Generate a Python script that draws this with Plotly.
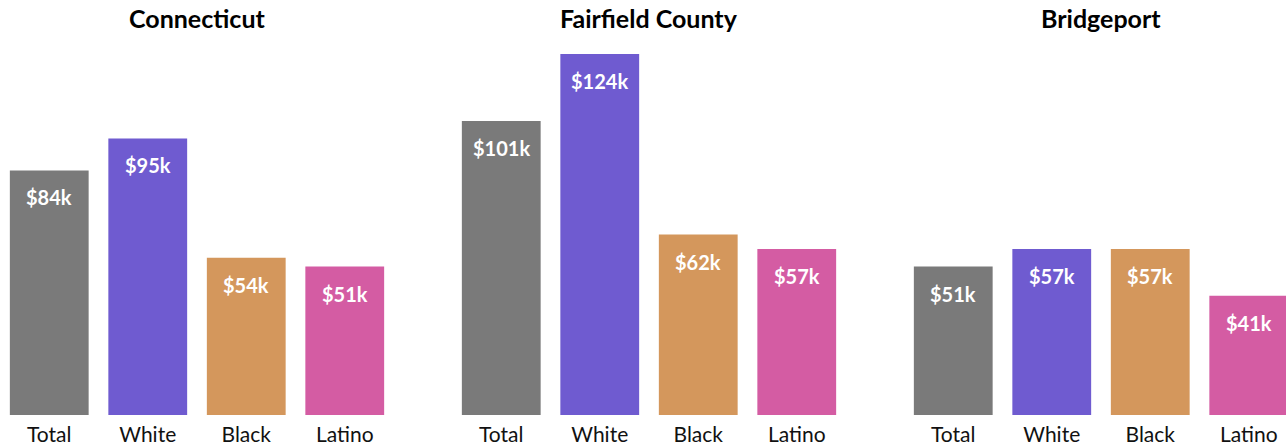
import plotly.graph_objects as go

categories = ["Total", "White", "Black", "Latino"]
regions = ["Connecticut", "Fairfield County", "Bridgeport"]
ct_values = [84, 95, 54, 51]
fc_values = [101, 124, 62, 57]
bp_values = [51, 57, 57, 41]
colors = ["#7a7a7a", "#6f5bd0", "#d4975c", "#d45ca3"]

W, H = 1286, 448
FONT = "Lato, Source Sans Pro, sans-serif"

fig = go.Figure()
series = [ct_values, fc_values, bp_values]
domains_px = [(0, 394), (452, 846), (904, 1286)]
unit = 98.5

for i, (vals, (a, b)) in enumerate(zip(series, domains_px)):
    ax = "" if i == 0 else str(i + 1)
    fig.add_trace(go.Bar(
        x=categories, y=vals, marker=dict(color=colors, line=dict(width=0)),
        xaxis="x" + ax, yaxis="y" + ax, showlegend=False, hoverinfo="skip",
    ))
    xr = [-0.5, -0.5 + (b - a) / unit]
    fig.update_layout(**{
        "xaxis" + ax: dict(domain=[a / W, b / W], range=xr, type="category",
                           showgrid=False, zeroline=False, showline=False, ticks="",
                           ticklabelstandoff=5,
                           tickfont=dict(family=FONT, size=21, color="#111"),
                           anchor="y" + ax, fixedrange=True),
        "yaxis" + ax: dict(range=[0, 124], visible=False, anchor="x" + ax, fixedrange=True),
    })
    xref = "x" + ax
    yref = "y" + ax
    for c, v in zip(categories, vals):
        fig.add_annotation(x=c, y=v, xref=xref, yref=yref, text=f"<b>${v}k</b>",
                           showarrow=False, yanchor="middle", yshift=-27,
                           font=dict(family=FONT, size=20, color="white"))
    fig.add_annotation(x=(a + b) / 2 / W if i < 2 else 1101 / W, y=1, xref="paper", yref="paper",
                       yshift=36, text=f"<b>{regions[i]}</b>", showarrow=False,
                       yanchor="middle", xanchor="center",
                       font=dict(family=FONT, size=25, color="#000"))

fig.update_layout(
    width=W, height=H, bargap=0.2,
    margin=dict(l=0, r=0, t=54, b=33),
    plot_bgcolor="white", paper_bgcolor="white",
)
fig.write_html("out.html", config={"displayModeBar": False},
               post_script="document.body.style.margin='0';document.body.style.overflow='hidden';")
